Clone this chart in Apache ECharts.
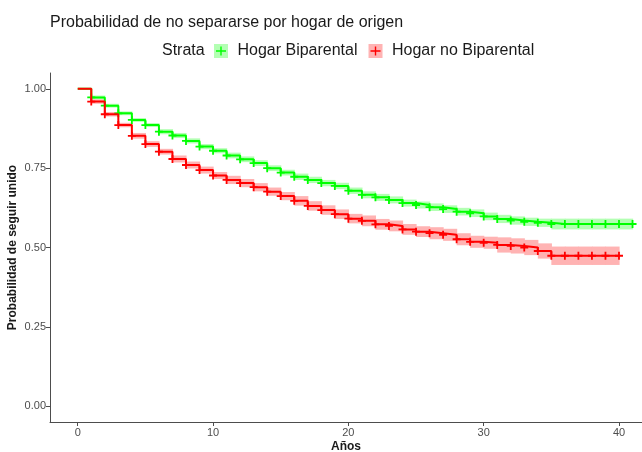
<!DOCTYPE html>
<html>
<head>
<meta charset="utf-8">
<script src="https://cdn.jsdelivr.net/npm/echarts@6/dist/echarts.min.js"></script>
<style>
  html, body { margin: 0; padding: 0; background: #fff; }
  #chart { width: 642px; height: 452px; }
</style>
</head>
<body>
<div id="chart"></div>
<script>
// tiempos (años) y curvas de Kaplan-Meier
const timesBip = [0,1,2,3,4,5,6,7,8,9,10,11,12,13,14,15,16,17,18,19,20,21,22,23,24,25,26,27,28,29,30,31,32,33,34,35,36,37,38,39,40,41];
const survBip = [1.000,0.973,0.947,0.923,0.902,0.886,0.865,0.853,0.836,0.818,0.805,0.790,0.778,0.766,0.750,0.736,0.723,0.713,0.703,0.694,0.679,0.666,0.658,0.650,0.640,0.634,0.627,0.621,0.613,0.608,0.598,0.590,0.585,0.581,0.578,0.574,0.574,0.574,0.574,0.574,0.574,0.574];
const lowBip = [1.000,0.967,0.941,0.917,0.896,0.880,0.857,0.845,0.828,0.810,0.797,0.781,0.769,0.757,0.741,0.727,0.713,0.703,0.693,0.684,0.669,0.655,0.647,0.639,0.629,0.623,0.615,0.609,0.601,0.596,0.586,0.577,0.572,0.568,0.565,0.557,0.557,0.557,0.557,0.557,0.557,0.557];
const highBip = [1.000,0.979,0.953,0.929,0.908,0.892,0.873,0.861,0.844,0.826,0.813,0.799,0.787,0.775,0.759,0.745,0.733,0.723,0.713,0.704,0.689,0.677,0.669,0.661,0.651,0.645,0.639,0.633,0.625,0.620,0.610,0.603,0.598,0.594,0.591,0.591,0.591,0.591,0.591,0.591,0.591,0.591];

const timesNoBip = [0,1,2,3,4,5,6,7,8,9,10,11,12,13,14,15,16,17,18,19,20,21,22,23,24,25,26,27,28,29,30,31,32,33,34,35,36,37,38,39,40];
const survNoBip = [1.000,0.960,0.920,0.886,0.852,0.826,0.802,0.779,0.760,0.744,0.727,0.713,0.703,0.690,0.676,0.662,0.647,0.631,0.618,0.605,0.591,0.584,0.573,0.568,0.557,0.550,0.545,0.540,0.526,0.518,0.515,0.508,0.505,0.500,0.489,0.474,0.474,0.474,0.474,0.474,0.474];
const lowNoBip = [1.000,0.953,0.913,0.879,0.843,0.817,0.793,0.768,0.749,0.733,0.716,0.700,0.690,0.677,0.663,0.649,0.632,0.616,0.603,0.590,0.576,0.567,0.556,0.551,0.540,0.533,0.526,0.521,0.507,0.499,0.496,0.484,0.481,0.476,0.465,0.445,0.445,0.445,0.445,0.445,0.445];
const highNoBip = [1.000,0.967,0.927,0.893,0.861,0.835,0.811,0.790,0.771,0.755,0.738,0.726,0.716,0.703,0.689,0.675,0.662,0.646,0.633,0.620,0.606,0.601,0.590,0.585,0.574,0.567,0.564,0.559,0.545,0.537,0.534,0.532,0.529,0.524,0.513,0.503,0.503,0.503,0.503,0.503,0.503];

const xTicks = [0, 10, 20, 30, 40];
const yTicks = [0, 0.25, 0.5, 0.75, 1];

const FONT = 'Liberation Sans, Arial, sans-serif';
const GREEN = '#00FF00';
const RED = '#FF0000';
const GREEN_BAND = '#B3FFB3';
const RED_BAND = '#FFB3B3';

const chart = echarts.init(document.getElementById('chart'), null, { renderer: 'canvas' });

function lineData(t, s) {
  return t.map((x, i) => [x, s[i]]);
}
// marcas de censura en cada tiempo (excepto 0)
function censorData(t, s) {
  return t.slice(1).map((x, i) => [x, s[i + 1]]);
}
// intervalos de la banda de confianza [t0, t1, low, high]
function bandData(t, lo, hi) {
  const out = [];
  for (let i = 0; i < t.length - 1; i++) {
    out.push([t[i], t[i + 1], lo[i], hi[i]]);
  }
  return out;
}
function bandSeries(name, data, color) {
  return {
    name: name,
    type: 'custom',
    data: data,
    silent: true,
    clip: true,
    renderItem: function (params, api) {
      const p1 = api.coord([api.value(0), api.value(3)]);
      const p2 = api.coord([api.value(1), api.value(2)]);
      return {
        type: 'rect',
        shape: { x: p1[0], y: p1[1], width: p2[0] - p1[0] + 0.6, height: p2[1] - p1[1] },
        style: { fill: color }
      };
    }
  };
}

const plus = 'path://M3.1,0H4.9V3.1H8V4.9H4.9V8H3.1V4.9H0V3.1H3.1Z';
// cruz fina dentro de una caja de 14x14 (los puntos de las esquinas fijan el tamaño)
const legendPlus = 'path://M0,0L0,0ZM14,14L14,14ZM6.3,2.5H7.7V6.3H12V7.7H7.7V11.5H6.3V7.7H2V6.3H6.3Z';

const legendBase = {
  left: 214,
  top: 43,
  padding: 0,
  itemWidth: 14,
  itemHeight: 14,
  itemGap: 11,
  selectedMode: false,
  formatter: function (name) { return ' ' + name; },
  textStyle: { fontSize: 16, fontFamily: FONT, color: '#1a1a1a' }
};

const option = {
  animation: false,
  title: [
    {
      text: 'Probabilidad de no separarse por hogar de origen',
      left: 50,
      top: 15,
      padding: 0,
      textStyle: { fontSize: 16, fontWeight: 'normal', fontFamily: FONT, color: '#1a1a1a' }
    },
    {
      text: 'Strata',
      left: 162,
      top: 43,
      padding: 0,
      textStyle: { fontSize: 16, fontWeight: 'normal', fontFamily: FONT, color: '#1a1a1a' }
    }
  ],
  legend: [
    Object.assign({}, legendBase, {
      data: [
        { name: 'Hogar Biparental', icon: 'rect', itemStyle: { color: GREEN_BAND, borderWidth: 0 } },
        { name: 'Hogar no Biparental', icon: 'rect', itemStyle: { color: RED_BAND, borderWidth: 0 } }
      ]
    }),
    Object.assign({}, legendBase, {
      textStyle: { fontSize: 16, fontFamily: FONT, color: 'rgba(0,0,0,0)' },
      data: [
        { name: 'Hogar Biparental', icon: legendPlus, itemStyle: { color: GREEN, borderWidth: 0 } },
        { name: 'Hogar no Biparental', icon: legendPlus, itemStyle: { color: RED, borderWidth: 0 } }
      ]
    })
  ],
  grid: { left: 50, right: 0, top: 73, bottom: 30, outerBoundsMode: 'none' },
  xAxis: {
    type: 'value',
    min: -2.05,
    max: 41.7,
    name: 'Años',
    nameLocation: 'middle',
    nameGap: 19,
    nameMoveOverlap: false,
    nameTextStyle: { fontSize: 12, fontWeight: 'bold', fontFamily: FONT, color: '#1a1a1a' },
    splitLine: { show: false },
    axisLine: { onZero: false, lineStyle: { color: '#4d4d4d', width: 1 } },
    axisTick: { length: 4, lineStyle: { color: '#4d4d4d' }, customValues: xTicks },
    axisLabel: { customValues: xTicks, fontSize: 11, fontFamily: FONT, color: '#4d4d4d', margin: 5 }
  },
  yAxis: {
    type: 'value',
    min: -0.05,
    max: 1.05,
    name: 'Probabilidad de seguir unido',
    nameLocation: 'middle',
    nameGap: 31,
    nameMoveOverlap: false,
    nameTextStyle: { fontSize: 12, fontWeight: 'bold', fontFamily: FONT, color: '#1a1a1a' },
    splitLine: { show: false },
    axisLine: { show: true, onZero: false, lineStyle: { color: '#4d4d4d', width: 1 } },
    axisTick: { show: true, length: 4, lineStyle: { color: '#4d4d4d' }, customValues: yTicks },
    axisLabel: {
      customValues: yTicks,
      fontSize: 11,
      fontFamily: FONT,
      color: '#4d4d4d',
      margin: 4,
      formatter: function (v) { return v.toFixed(2); }
    }
  },
  series: [
    bandSeries('IC Biparental', bandData(timesBip, lowBip, highBip), GREEN_BAND),
    bandSeries('IC no Biparental', bandData(timesNoBip, lowNoBip, highNoBip), RED_BAND),
    {
      name: 'KM Biparental',
      type: 'line',
      step: 'end',
      data: lineData(timesBip, survBip),
      showSymbol: false,
      lineStyle: { color: GREEN, width: 2 },
      itemStyle: { color: GREEN },
      silent: true
    },
    {
      name: 'KM no Biparental',
      type: 'line',
      step: 'end',
      data: lineData(timesNoBip, survNoBip),
      showSymbol: false,
      lineStyle: { color: RED, width: 2 },
      itemStyle: { color: RED },
      silent: true
    },
    {
      name: 'Hogar Biparental',
      type: 'scatter',
      data: censorData(timesBip, survBip),
      symbol: plus,
      symbolSize: 8,
      itemStyle: { color: GREEN, opacity: 1 },
      silent: true
    },
    {
      name: 'Hogar no Biparental',
      type: 'scatter',
      data: censorData(timesNoBip, survNoBip),
      symbol: plus,
      symbolSize: 8,
      itemStyle: { color: RED, opacity: 1 },
      silent: true
    }
  ]
};

chart.setOption(option);
window.addEventListener('resize', chart.resize);
</script>
</body>
</html>
